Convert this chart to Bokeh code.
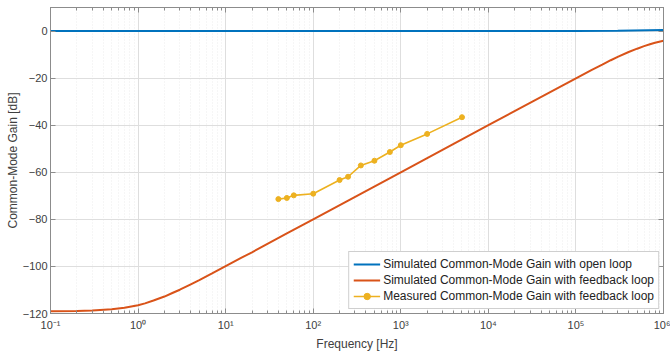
from bokeh.plotting import figure
from bokeh.models import (LogAxis, LinearAxis, CustomJSTickFormatter, FixedTicker,
                          LogTicker, Range1d, Legend)
from bokeh.embed import file_html
from bokeh.resources import INLINE

# ---------------- data ----------------
open_f = [0.1, 1.0, 10.0, 100.0, 1e3, 1e4, 1e5, 3e5, 1e6]
open_db = [0.0, 0.0, 0.0, 0.0, 0.0, 0.0, 0.05, 0.15, 0.4]

fb_f = [0.1, 0.2, 0.3, 0.5, 0.7, 1.0, 1.2, 1.5, 2.0, 2.5, 3.0, 4.0, 5.0, 7.0, 10.0,
        15.0, 20.0, 30.0, 50.0, 100.0, 1e3, 1e4, 1e5, 1.5e5, 2e5, 2.5e5, 3e5, 4e5,
        5e5, 6e5, 7e5, 8e5, 1e6]
fb_db = [-119.0, -118.9, -118.7, -118.2, -117.6, -116.5, -115.7, -114.5, -112.8,
         -111.2, -109.9, -107.6, -105.8, -103.0, -99.9, -96.4, -94.0, -90.4, -86.0,
         -80.0, -60.0, -40.0, -20.1, -16.6, -14.3, -12.4, -11.0, -8.9, -7.5, -6.4,
         -5.6, -4.95, -4.1]

meas_f = [40, 50, 60, 100, 200, 250, 350, 500, 750, 1000, 2000, 5000]
meas_db = [-71.4, -70.9, -69.8, -69.1, -63.3, -61.9, -57.1, -55.1, -51.4, -48.5,
           -43.7, -36.6]

x_tick_labels = ["10⁻¹", "10⁰", "10¹", "10²", "10³", "10⁴", "10⁵", "10⁶"]
y_ticks = [-120, -100, -80, -60, -40, -20, 0]

labels = ["Simulated Common-Mode Gain with open loop",
          "Simulated Common-Mode Gain with feedback loop",
          "Measured Common-Mode Gain with feedback loop"]

BLUE = "#0072BD"
ORANGE = "#D95319"
YELLOW = "#EDB120"
FONT = "Liberation Sans"
TXT = "#404040"
FRAME = "#8c8c8c"

p = figure(width=670, height=354, x_axis_type="log",
           x_range=Range1d(0.1, 1e6), y_range=Range1d(-120, 10),
           output_backend="svg", toolbar_location=None,
           min_border_left=50, min_border_right=7, min_border_top=7,
           min_border_bottom=41)
p.background_fill_color = "white"
p.border_fill_color = "white"
p.outline_line_color = FRAME
p.outline_line_width = 1

xfmt = CustomJSTickFormatter(args=dict(labels=x_tick_labels), code="""
const e = Math.round(Math.log10(tick));
const i = e + 1;
return (i >= 0 && i < labels.length) ? labels[i] : '';
""")
blank = CustomJSTickFormatter(code="return '';")

xt = LogTicker(num_minor_ticks=10)
yt = FixedTicker(ticks=y_ticks, minor_ticks=[])

def style(ax, show):
    ax.axis_line_color = FRAME
    ax.major_tick_line_color = FRAME
    ax.minor_tick_line_color = FRAME
    ax.major_tick_in = 5
    ax.major_tick_out = 0
    ax.minor_tick_in = 3
    ax.minor_tick_out = 0
    ax.major_label_text_font = FONT
    ax.major_label_text_font_size = "11px"
    ax.major_label_text_color = TXT
    ax.axis_label_text_font = FONT
    ax.axis_label_text_font_size = "12px"
    ax.axis_label_text_font_style = "normal"
    ax.axis_label_text_color = TXT
    if not show:
        ax.major_label_standoff = 0

xa = p.xaxis[0]
xa.ticker = xt
xa.formatter = xfmt
xa.axis_label = "Frequency [Hz]"
style(xa, True)
xa.major_label_standoff = 5
xa.axis_label_standoff = 3

ya = p.yaxis[0]
ya.ticker = yt
ya.axis_label = "Common-Mode Gain [dB]"
style(ya, True)
ya.major_label_standoff = 3
ya.axis_label_standoff = 0

top = LogAxis(ticker=xt, formatter=blank)
style(top, False)
p.add_layout(top, "above")
right = LinearAxis(ticker=yt, formatter=blank)
style(right, False)
p.add_layout(right, "right")

p.xgrid.ticker = xt
p.xgrid.grid_line_color = "#dedede"
p.xgrid.minor_grid_line_color = "#ececec"
p.xgrid.minor_grid_line_dash = "1 2"
p.ygrid.ticker = yt
p.ygrid.grid_line_color = "#dedede"

r1 = p.line(open_f, open_db, line_color=BLUE, line_width=2)
r2 = p.line(fb_f, fb_db, line_color=ORANGE, line_width=2)
r3 = p.line(meas_f, meas_db, line_color=YELLOW, line_width=1.6)
r4 = p.scatter(meas_f, meas_db, marker="circle", size=5, fill_color=YELLOW,
               line_color=YELLOW)

legend = Legend(items=[(labels[0], [r1]), (labels[1], [r2]), (labels[2], [r3, r4])],
                location="bottom_right")
legend.label_text_font = FONT
legend.label_text_font_size = "12px"
legend.label_text_color = "#222222"
legend.label_height = 16
legend.glyph_height = 16
legend.glyph_width = 27
legend.label_standoff = 3
legend.spacing = 0
legend.padding = 4
legend.margin = 4
legend.border_line_color = "#a0a0a0"
legend.background_fill_alpha = 1
p.add_layout(legend)

open("out.html", "w").write(file_html(p, INLINE))
